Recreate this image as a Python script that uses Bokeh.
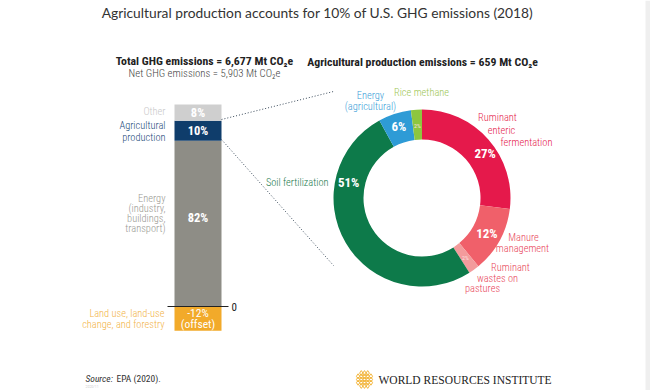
import math
from bokeh.plotting import figure
from bokeh.models import Range1d
from bokeh.core.properties import value
from bokeh.embed import file_html
from bokeh.resources import INLINE

# ---------------- data ----------------
bar_categories = ["Energy", "Agricultural production", "Other"]
bar_values = [82, 10, 8]
offset_category = "Land use, land-use change, and forestry"
offset_value = -12
total_ghg = "6,677"
net_ghg = "5,903"
ag_total = "659"
ag_categories = ["Ruminant enteric fermentation", "Manure management",
                 "Ruminant wastes on pastures", "Soil fertilization",
                 "Energy (agricultural)", "Rice methane"]
ag_values = [27, 12, 2, 51, 6, 2]

# ---------------- style / layout ----------------
LIGHT = "Roboto Condensed Light, Roboto Condensed, Roboto Light, Roboto"
REG = "Roboto Condensed, Roboto"
bar_colors = ["#8e8d86", "#0f3d6b", "#cfcfcf"]
bar_label_colors = ["#9a9993", "#1b4a7a", "#c9c9c9"]
offset_color = "#f2aa2a"
offset_label_color = "#f2b347"
ag_colors = ["#e5194b", "#f0606a", "#f39b9c", "#0d7a4a", "#2e9bd6", "#8dc63f"]

W, H = 650, 390

def Y(v):
    return H - v

p = figure(width=W, height=H, x_range=Range1d(0, W), y_range=Range1d(0, H),
           output_backend="svg", toolbar_location=None, min_border=0,
           x_axis_location=None, y_axis_location=None)
p.grid.visible = False
p.outline_line_color = None
p.background_fill_color = "white"
p.border_fill_color = "white"

# percent scale for the stacked bar: 0 at y 306, 100 at y 104
px_per_pct = (306 - 104) / 100.0
zero_d = Y(306)
p.extra_y_ranges = {"pct": Range1d((0 - zero_d) / px_per_pct, (H - zero_d) / px_per_pct)}

def txt(x, y, s, size, color, align="center", bold=False, font=LIGHT, italic=False, yr=None):
    kw = {}
    if yr:
        kw["y_range_name"] = yr
    style = "bold" if bold else ("italic" if italic else "normal")
    p.text(x=[x], y=[y], text=[s], text_font=value(font), text_font_size=f"{size}px",
           text_color=color, text_align=align, text_baseline="middle",
           text_font_style=style, **kw)

# right-edge strip as in the reference page
p.quad(left=[645], right=[W], bottom=[0], top=[H], fill_color="#efefef", line_color=None)

# title
txt(317, Y(12), "Agricultural production accounts for 10% of U.S. GHG emissions (2018)",
    13.8, "#333333", font="Lato")

# headers
txt(204, Y(60), f"Total GHG emissions = {total_ghg} Mt CO\u2082e", 11.8, "#222222", bold=True, font=REG)
txt(204, Y(73), f"Net GHG emissions = {net_ghg} Mt CO\u2082e", 10.8, "#444444")
txt(422, Y(61), f"Agricultural production emissions = {ag_total} Mt CO\u2082e", 11.8, "#222222", bold=True, font=REG)

# stacked bar
BX, BW = 197.5, 47
bottoms, tops = [], []
acc = 0
for v in bar_values:
    bottoms.append(acc)
    acc += v
    tops.append(acc)
p.vbar(x=BX, width=BW, bottom=bottoms, top=tops, fill_color=bar_colors,
       line_color=None, y_range_name="pct")
p.vbar(x=BX, width=BW, bottom=[offset_value], top=[0], fill_color=offset_color,
       line_color=None, y_range_name="pct")
p.segment(x0=[167], x1=[228], y0=[0], y1=[0], line_color="#222222", line_width=1,
          y_range_name="pct")
txt(231, 0, "0", 11, "#222222", align="left", font=REG, yr="pct")

for b, t, v in zip(bottoms, tops, bar_values):
    txt(BX, (b + t) / 2 + (3 if v > 50 else 0), f"{v}%", 12.5, "white", bold=True,
        font=REG, yr="pct")
txt(BX, offset_value / 2 + 2.7, f"{offset_value}%", 11.5, "white", font=REG, yr="pct")
txt(BX, offset_value / 2 - 2.7, "(offset)", 11.5, "white", font=REG, yr="pct")

# left labels
LS = 10.4
left_x = 165
txt(left_x, Y(111), "Other", LS, bar_label_colors[2], align="right")
txt(left_x, Y(125), "Agricultural", LS, bar_label_colors[1], align="right")
txt(left_x, Y(137), "production", LS, bar_label_colors[1], align="right")
for i, s in enumerate(["Energy", "(industry,", "buildings,", "transport)"]):
    txt(left_x, Y(198 + 10 * i), s, LS, bar_label_colors[0], align="right")
txt(164, Y(313), "Land use, land-use", LS, offset_label_color, align="right")
txt(164, Y(324), "change, and forestry", LS, offset_label_color, align="right")

# connectors
p.line(x=[221, 333], y=[Y(119), Y(91)], line_color="#3a4a5a", line_dash="1 2", line_width=1)
p.line(x=[221, 333], y=[Y(139), Y(265)], line_color="#3a4a5a", line_dash="1 2", line_width=1)

# donut
CX, CY = 421.5, Y(197.5)
R_OUT, R_IN = 88.5, 58.5
total = float(sum(ag_values))
starts, ends, cum = [], [], 0.0
for v in ag_values:
    c0 = cum / total
    cum += v
    c1 = cum / total
    starts.append(math.pi / 2 - 2 * math.pi * c1)
    ends.append(math.pi / 2 - 2 * math.pi * c0)
p.annular_wedge(x=CX, y=CY, inner_radius=R_IN, outer_radius=R_OUT,
                inner_radius_units="screen", outer_radius_units="screen",
                start_angle=starts, end_angle=ends, fill_color=ag_colors, line_color=None)

label_frac = [0.153, 0.33, 0.40, 0.783, 0.95, 0.99]
label_r = [77, 74, 74, 75, 75, 73]
for v, f, r in zip(ag_values, label_frac, label_r):
    a = math.pi / 2 - 2 * math.pi * f
    small = v < 3
    txt(CX + r * math.cos(a), CY + r * math.sin(a), f"{v}%", 6 if small else 13,
        "#fbe0e0" if small else "white", bold=not small, font=REG)

# donut outer labels
txt(370, Y(95), "Energy", LS, "#3aa0d8")
txt(370, Y(106), "(agricultural)", LS, "#3aa0d8")
txt(421, Y(92), "Rice methane", LS, "#9cc653")
txt(497, Y(117), "Ruminant", LS, "#e5194b")
txt(501, Y(130), "enteric", LS, "#e5194b")
txt(526, Y(142), "fermentation", LS, "#e5194b")
txt(523, Y(237), "Manure", LS, "#e84458")
txt(522, Y(248), "management", LS, "#e84458")
txt(510, Y(267), "Ruminant", LS, "#e84458")
txt(497, Y(278), "wastes on", LS, "#e84458")
txt(482, Y(288), "pastures", LS, "#e84458")
txt(328, Y(182), "Soil fertilization", LS, "#1a7a4c", align="right")

# footer
txt(85, Y(378), "Source:", 9.5, "#333333", align="left", italic=True, font=REG)
txt(116, Y(378), "EPA (2020).", 9.5, "#333333", align="left", font=REG)
txt(85, Y(386), "2020/11", 4, "#bbbbbb", align="left")

# WRI logo (decorative lattice)
lx, ly = 364, Y(379)
pts_x, pts_y = [], []
for i in range(-2, 3):
    for j in range(-2, 3):
        if abs(i) + abs(j) <= 3:
            pts_x.append(lx + i * 3.2)
            pts_y.append(ly + j * 3.2)
p.scatter(x=pts_x, y=pts_y, marker="diamond", size=5, fill_color=None,
          line_color="#f3b53a", line_width=1)
txt(378, Y(379), "WORLD RESOURCES INSTITUTE", 11.5, "#222222", align="left",
    font="Liberation Serif")

open("out.html", "w").write(file_html(p, INLINE))
